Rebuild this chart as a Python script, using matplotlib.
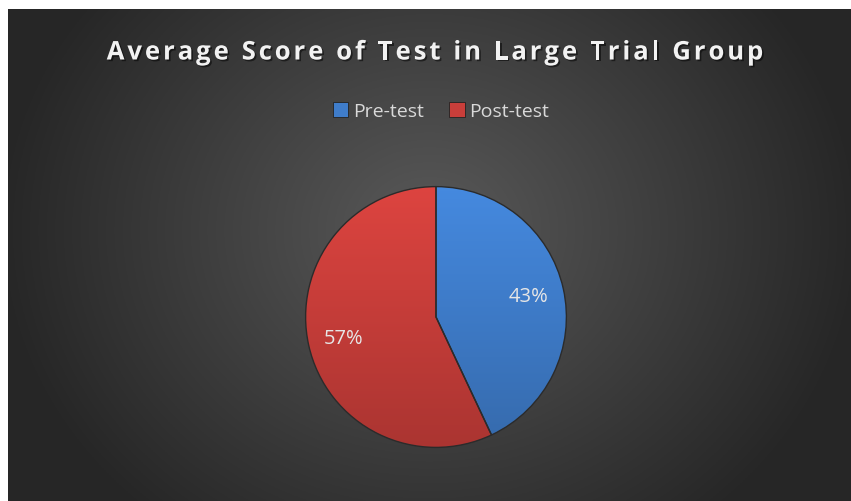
import numpy as np
import matplotlib.pyplot as plt
import matplotlib.patheffects as pe
from matplotlib.patches import Rectangle
from matplotlib.colors import to_rgb

# data
labels = ['Pre-test', 'Post-test']
shares = [43, 57]
colors = ['#3f7dcb', '#c93e3a']
title = 'Average Score of Test in Large Trial Group'

W, H = 851, 502
fig = plt.figure(figsize=(W / 100, H / 100), dpi=100)
fig.patch.set_facecolor('white')

# dark radial background of the chart area
bg = fig.add_axes([8 / W, 0, (W - 8) / W, (H - 10) / H])
yy, xx = np.mgrid[0:1:300j, 0:1:500j]
d = np.sqrt(((xx - 0.5) * 1.5) ** 2 + (yy - 0.55) ** 2)
shade = np.clip(0.35 - 0.22 * d / d.max() * 1.1, 0.15, 0.35)
bg.imshow(np.dstack([shade] * 3), aspect='auto', extent=[0, 1, 0, 1], origin='lower')
bg.set_axis_off()

# title with letter spacing, drawn char by char
renderer = fig.canvas.get_renderer()
tprops = dict(fontsize=18.5, fontweight='bold', family='Open Sans', color='#f2f2f2',
              va='center', ha='left',
              path_effects=[pe.withSimplePatchShadow(offset=(1.2, -1.2), shadow_rgbFace='black', alpha=0.5)])
spacing = 2.9
widths = []
for ch in title:
    if ch == ' ':
        widths.append(7.0)
        continue
    t = fig.text(0, 0, ch, **tprops)
    widths.append(t.get_window_extent(renderer).width)
    t.remove()
total = sum(widths) + spacing * (len(title) - 1)
x = 435 - total / 2
for ch, w in zip(title, widths):
    if ch != ' ':
        fig.text(x / W, 1 - 53 / H, ch, **tprops)
    x += w + spacing

# pie
cx, cy, r = 436, 318, 133
ax = fig.add_axes([(cx - r) / W, (H - cy - r) / H, 2 * r / W, 2 * r / H])
wedges, texts, autotexts = ax.pie(
    shares, colors=colors, startangle=90, counterclock=False,
    autopct='%1.0f%%', pctdistance=0.73,
    wedgeprops=dict(edgecolor='#2b2b2b', linewidth=1.0),
    textprops=dict(color='#e6e6e6', fontsize=14.5, family='Open Sans'))
# vertical shading inside each slice
for w, c in zip(wedges, colors):
    base = np.array(to_rgb(c))
    g = np.linspace(0.85, 1.1, 200)[:, None, None]
    img = np.clip(base[None, None, :] * g, 0, 1) * np.ones((1, 2, 1))
    im = ax.imshow(img, extent=[-1, 1, -1, 1], origin='lower', aspect='auto', zorder=1.5)
    im.set_clip_path(w)
    w.set_facecolor('none')
    w.set_zorder(1.6)
for t in autotexts:
    t.set_zorder(3)
ax.set_xlim(-1.02, 1.02)
ax.set_ylim(-1.02, 1.02)
ax.set_aspect('equal')
ax.set_axis_off()

# legend
handles = [Rectangle((0, 0), 1, 1, facecolor=c, edgecolor='#222222', linewidth=0.6) for c in colors]
leg = fig.legend(handles, labels, loc='center', bbox_to_anchor=(441 / W, 1 - 112 / H),
                 ncol=2, frameon=False, handlelength=0.8, handleheight=0.8,
                 handletextpad=0.25, columnspacing=1.3,
                 prop=dict(family='Open Sans', size=14))
for t in leg.get_texts():
    t.set_color('#d9d9d9')

fig.savefig('out.png', dpi=100, facecolor=fig.get_facecolor())
